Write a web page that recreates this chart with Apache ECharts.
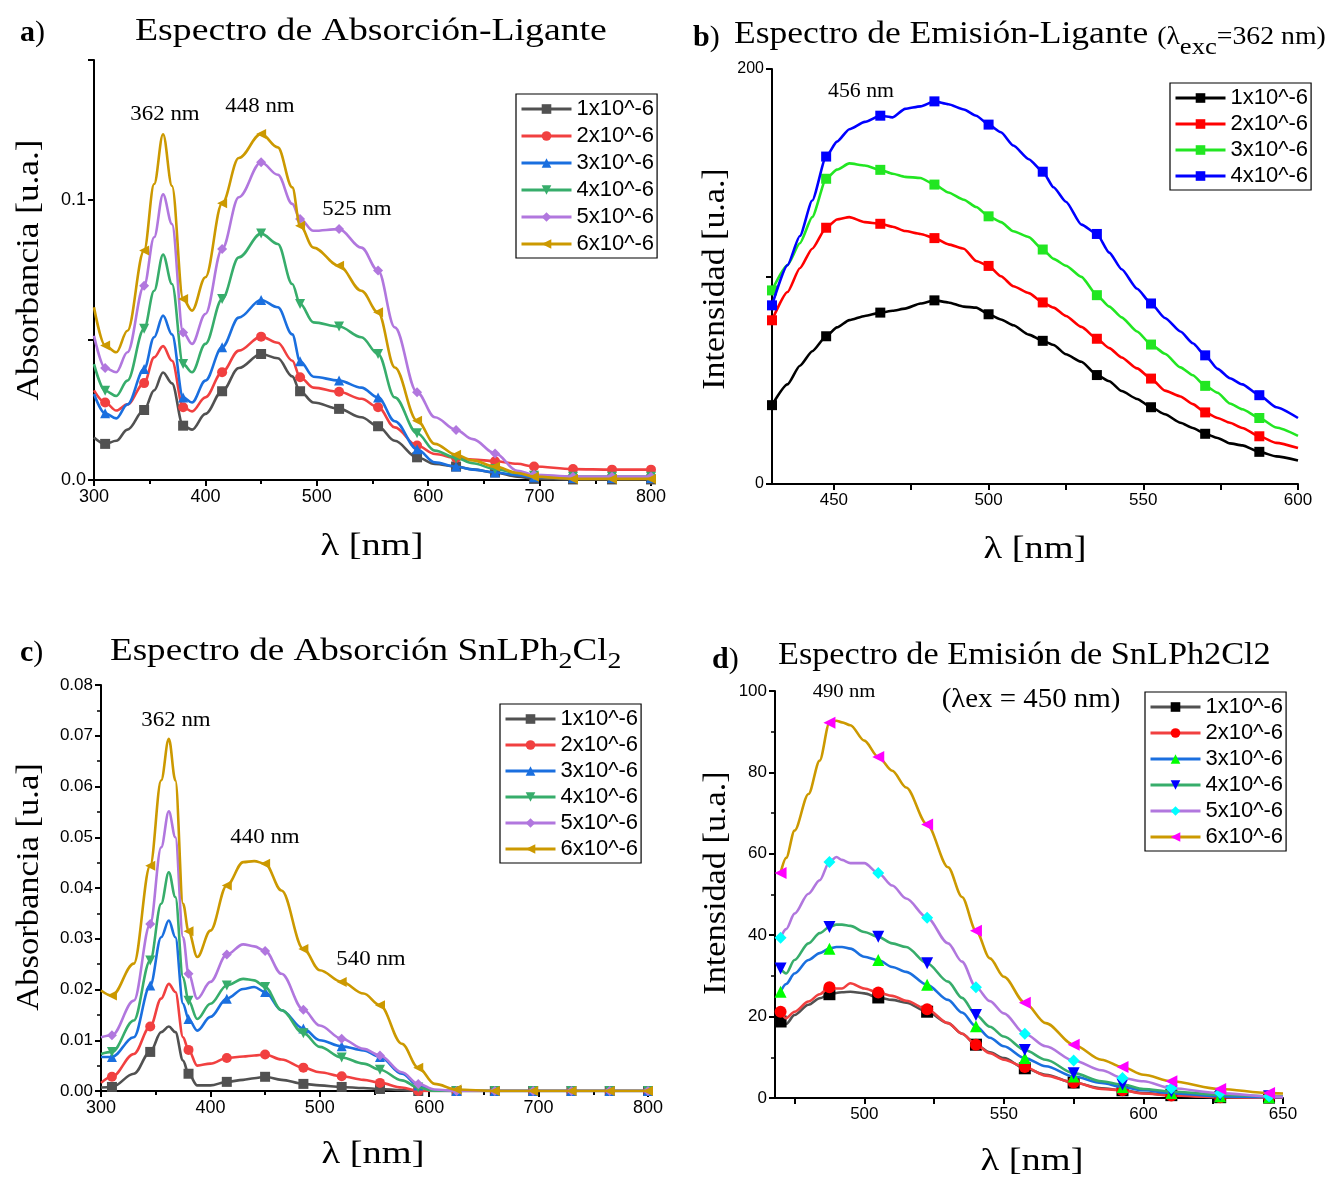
<!DOCTYPE html>
<html><head><meta charset="utf-8">
<script src="https://cdn.jsdelivr.net/npm/echarts@6/dist/echarts.min.js"></script>
<style>html,body{margin:0;padding:0;background:#fff}#c{width:1343px;height:1178px}</style>
</head><body><div id="c"></div>
<script>
// ---------- DATA ----------
const legendNames = ['1x10^-6','2x10^-6','3x10^-6','4x10^-6','5x10^-6','6x10^-6'];

// Panel a: Absorción - Ligante
const xA = [300,310,320,330,345,354,362,370,380,388,400,415,430,450,465,478,485,497,520,540,555,570,590,606,625,640,660,680,695,730,765,800];
const a1 = [0.0152,0.0129,0.0140,0.0180,0.0250,0.0320,0.0384,0.0345,0.0194,0.0180,0.0236,0.0317,0.0400,0.0450,0.0435,0.0370,0.0317,0.0277,0.0254,0.0224,0.0192,0.0140,0.0081,0.0057,0.0048,0.0038,0.0027,0.0012,0.0004,0.0002,0.0002,0.0002];
const a2 = [0.0320,0.0277,0.0248,0.0270,0.0346,0.0438,0.0478,0.0426,0.0260,0.0245,0.0295,0.0385,0.0462,0.0512,0.0490,0.0426,0.0367,0.0330,0.0315,0.0290,0.0260,0.0188,0.0123,0.0093,0.0079,0.0073,0.0067,0.0058,0.0048,0.0039,0.0037,0.0037];
const a3 = [0.0307,0.0238,0.0220,0.0270,0.0396,0.0510,0.0587,0.0520,0.0295,0.0277,0.0355,0.0474,0.0580,0.0643,0.0617,0.0520,0.0424,0.0369,0.0355,0.0330,0.0295,0.0210,0.0110,0.0063,0.0048,0.0037,0.0027,0.0017,0.0010,0.0007,0.0007,0.0007];
const a4 = [0.0414,0.0319,0.0300,0.0355,0.0540,0.0676,0.0805,0.0700,0.0414,0.0385,0.0486,0.0646,0.0795,0.0880,0.0843,0.0700,0.0629,0.0563,0.0548,0.0510,0.0450,0.0295,0.0167,0.0105,0.0079,0.0060,0.0039,0.0025,0.0015,0.0012,0.0012,0.0012];
const a5 = [0.0515,0.0400,0.0385,0.0456,0.0694,0.0867,0.1020,0.0914,0.0527,0.0486,0.0593,0.0825,0.1010,0.1135,0.1090,0.0986,0.0932,0.0890,0.0896,0.0830,0.0748,0.0545,0.0313,0.0224,0.0179,0.0146,0.0095,0.0033,0.0019,0.0012,0.0012,0.0012];
const a6 = [0.0617,0.0480,0.0456,0.0533,0.0820,0.1057,0.1235,0.1050,0.0646,0.0605,0.0724,0.0988,0.1150,0.1236,0.1188,0.1045,0.0908,0.0830,0.0765,0.0676,0.0599,0.0402,0.0212,0.0129,0.0090,0.0070,0.0048,0.0025,0.0012,0.0004,0.0004,0.0004];
const markA = [310,345,380,415,450,485,520,555,590,625,660,695,730,765,800];

// Panel b: Emisión - Ligante
const xB = [430,435,439,443,447.5,451,455,460,465,469,473,478,482.5,487,492,496,500,504,508,513,517.5,521,525,530,535,539,543,548,552.5,557,562,566,570,574,578,582,587.5,593,600];
const b1 = [38.0,48.0,57.0,64.0,71.2,75.5,79.0,81.0,82.6,83.5,84.5,87.0,88.5,87.5,85.5,85.0,81.8,79.3,76.5,72.0,69.0,67.0,62.5,58.9,52.5,49.5,44.8,41.0,37.0,33.6,29.5,27.0,24.2,22.2,19.6,18.6,15.5,13.3,11.3];
const b2 = [78.9,92.5,104.0,113.4,123.5,127.5,128.6,126.2,125.4,124.0,121.9,120.5,118.5,115.5,113.4,107.5,105.1,100.1,95.3,92.0,87.5,85.0,81.0,75.7,70.0,65.5,61.0,55.7,50.8,45.0,42.2,38.5,34.5,31.8,29.5,27.0,23.0,19.8,17.3];
const b3 = [93.3,105.5,116.0,128.6,147.1,151.5,154.5,153.5,151.4,149.5,148.0,147.5,144.3,140.5,137.0,133.5,129.0,126.2,121.8,119.0,113.0,108.5,105.2,99.8,91.0,85.5,80.3,73.5,67.2,62.8,56.2,52.4,47.3,44.0,38.8,36.0,31.8,27.2,23.2];
const b4 = [86.1,105.5,119.5,136.6,157.8,165.0,171.0,174.5,177.5,176.7,180.8,182.0,184.4,183.0,180.5,177.5,173.2,169.5,163.1,156.5,150.5,143.0,136.0,125.0,120.5,111.5,103.5,94.1,87.0,80.0,73.5,67.8,62.0,55.5,51.0,48.0,42.8,37.0,31.8];
const markB = [430,447.5,465,482.5,500,517.5,535,552.5,570,587.5];

// Panel c: Absorción SnLPh2Cl2
const xC = [300,310,330,345,355,362,368,375,380,388,400,415,430,440,450,465,485,500,520,540,555,575,590,605,625,660,695,730,765,800];
const c1 = [0.0007,0.0008,0.0034,0.0077,0.0116,0.0127,0.0116,0.0060,0.0034,0.0011,0.0011,0.0018,0.0022,0.0025,0.0028,0.0022,0.0014,0.0011,0.0008,0.0006,0.0004,0.0002,0,0,0,0,0,0,0,0];
const c2 = [0.0016,0.0028,0.0073,0.0127,0.0182,0.0211,0.0195,0.0106,0.0081,0.0050,0.0054,0.0065,0.0068,0.0070,0.0072,0.0062,0.0046,0.0037,0.0029,0.0022,0.0016,0.0007,0,0,0,0,0,0,0,0];
const c3 = [0.0067,0.0067,0.0106,0.0208,0.0303,0.0336,0.0303,0.0172,0.0142,0.0119,0.0146,0.0182,0.0201,0.0205,0.0195,0.0159,0.0123,0.0100,0.0088,0.0080,0.0067,0.0034,0.0011,0.0001,0,0,0,0,0,0];
const c4 = [0.0073,0.0077,0.0139,0.0257,0.0369,0.0431,0.0382,0.0224,0.0178,0.0142,0.0172,0.0208,0.0221,0.0218,0.0205,0.0159,0.0114,0.0087,0.0066,0.0054,0.0042,0.0021,0.0007,0,0,0,0,0,0,0];
const c5 = [0.0106,0.0110,0.0178,0.0329,0.0480,0.0551,0.0500,0.0303,0.0231,0.0182,0.0215,0.0269,0.0289,0.0285,0.0276,0.0231,0.0160,0.0129,0.0103,0.0083,0.0070,0.0037,0.0014,0.0003,0,0,0,0,0,0];
const c6 = [0.0198,0.0188,0.0251,0.0444,0.0612,0.0694,0.0612,0.0369,0.0315,0.0264,0.0316,0.0405,0.0451,0.0453,0.0448,0.0395,0.0280,0.0238,0.0215,0.0192,0.0169,0.0093,0.0046,0.0014,0.0003,0,0,0,0,0];
const markC = [310,345,380,415,450,485,520,555,590,625,660,695,730,765,800];

// Panel d: Emisión SnLPh2Cl2
const xD = [470,472,475,480,484,487.5,490,492,495,500,505,510,515,522.5,530,535,540,545,550,557.5,565,575,585,592.5,600,610,627.5,645,650];
const d1 = [18.8,18.2,20.4,22.9,24.5,25.5,25.8,26.0,26.1,25.7,24.7,24.1,23.4,21.2,18.4,15.8,13.1,11.2,9.8,7.3,5.7,3.8,2.4,1.9,1.2,0.7,0.2,0.1,0.1];
const d2 = [21.2,19.6,21.2,23.7,25.5,27.2,26.9,26.9,28.2,26.9,25.9,25.1,23.9,21.8,18.4,15.8,13.1,11.0,9.4,7.6,5.5,3.8,2.2,1.9,1.1,0.6,0.2,0.1,0.1];
const d3 = [26.1,28.0,30.6,33.9,35.6,36.7,37.1,37.1,36.7,34.7,33.9,32.2,31.0,27.8,24.1,21.0,17.6,14.8,12.7,9.8,7.8,5.3,3.7,2.7,1.9,1.2,0.4,0.2,0.2];
const d4 = [31.8,30.6,33.9,38.0,40.5,42.0,42.6,42.6,42.3,40.8,39.6,38.0,37.1,33.1,28.6,24.6,20.4,17.5,15.1,11.8,9.4,6.1,4.1,3.3,2.2,1.6,0.8,0.4,0.4];
const d5 = [39.4,41.5,45.3,50.2,53.5,58.0,59.2,58.5,57.7,57.7,55.3,52.2,49.0,44.3,38.0,33.5,27.2,23.8,20.8,15.8,12.7,9.2,6.8,4.9,4.1,2.4,1.2,0.4,0.3];
const d6 = [55.3,59.0,65.7,74.7,82.9,92.2,92.7,92.3,91.6,87.8,83.8,80.4,76.3,67.2,56.7,49.4,41.1,34.3,29.8,23.4,18.4,13.1,9.4,7.6,5.7,4.1,2.2,1.2,1.1];
const markD = [470,487.5,505,522.5,540,557.5,575,592.5,610,627.5,645];

// ---------- STYLE ----------
const SERIF = '"Liberation Serif","Times New Roman",serif';
const SANS = '"Liberation Sans",Arial,sans-serif';
const brightLines = ['#515151','#F14040','#1A6FDF','#37AD6B','#B177DE','#CC9900'];
const pureB = ['#000000','#FF0000','#22E622','#0000FF'];
const markD_colors = ['#000000','#FF0000','#00FF00','#0000FF','#00FFFF','#FF00FF'];
const symbols6 = ['rect','circle','triangle','triangle','diamond','triangle'];
const rot6 = [0,0,0,180,0,90];

function mkSeries(panel, g, idx, xs, ys, marks, o) {
  const set = new Set(marks);
  return {
    type: 'line', name: panel + '|' + legendNames[idx],
    xAxisIndex: g, yAxisIndex: g,
    data: xs.map((x, i) => [x, ys[i]]),
    smooth: o.smooth, smoothMonotone: 'x',
    showSymbol: true, showAllSymbol: true,
    symbol: o.symbol, symbolRotate: o.rotate || 0,
    symbolSize: (v) => set.has(v[0]) ? o.size : 0,
    lineStyle: { color: o.line, width: 2.6 },
    itemStyle: { color: o.marker },
    emphasis: { disabled: true },
    z: 2 + idx
  };
}

function axisBase(fs) {
  return {
    axisLine: { show: true, onZero: false, lineStyle: { color: '#000', width: 2 } },
    axisTick: { show: true, inside: false, length: 6, lineStyle: { color: '#000', width: 2 } },
    splitLine: { show: false },
    axisLabel: { color: '#000', fontFamily: SANS, fontSize: fs, margin: 8 }
  };
}

const grids = [
  { left: 94, top: 60, width: 557, height: 420 },
  { left: 772, top: 69, width: 526, height: 415 },
  { left: 101, top: 685, width: 547, height: 406 },
  { left: 775, top: 691, width: 508, height: 407 }
];

const minorX = { show: true, splitNumber: 2, length: 4, lineStyle: { color: '#000', width: 2 } };
const minorY = { show: true, splitNumber: 2, length: 4, lineStyle: { color: '#000', width: 1.5 } };

const xAxes = [
  Object.assign(axisBase(18), { gridIndex: 0, type: 'value', min: 300, max: 800, interval: 100, minorTick: minorX }),
  Object.assign(axisBase(17), { gridIndex: 1, type: 'value', min: 430, max: 600 }),
  Object.assign(axisBase(18), { gridIndex: 2, type: 'value', min: 300, max: 800, interval: 100, minorTick: minorX }),
  Object.assign(axisBase(17), { gridIndex: 3, type: 'value', min: 468, max: 650 })
];
xAxes[1].axisTick = Object.assign({}, xAxes[1].axisTick, { customValues: [450,475,500,525,550,575,600] });
xAxes[1].axisLabel = Object.assign({}, xAxes[1].axisLabel, { customValues: [450,500,550,600] });
xAxes[3].axisTick = Object.assign({}, xAxes[3].axisTick, { customValues: [475,500,525,550,575,600,625,650] });
xAxes[3].axisLabel = Object.assign({}, xAxes[3].axisLabel, { customValues: [500,550,600,650] });

const yAxes = [
  Object.assign(axisBase(18), { gridIndex: 0, type: 'value', min: 0, max: 0.15, interval: 0.05 }),
  Object.assign(axisBase(16), { gridIndex: 1, type: 'value', min: 0, max: 200, interval: 100 }),
  Object.assign(axisBase(17), { gridIndex: 2, type: 'value', min: 0, max: 0.08, interval: 0.01, minorTick: minorY }),
  Object.assign(axisBase(17), { gridIndex: 3, type: 'value', min: 0, max: 100, interval: 20, minorTick: minorY })
];
yAxes[0].axisLabel = Object.assign({}, yAxes[0].axisLabel, { formatter: v => Math.abs(v) < 1e-9 ? '0.0' : (Math.abs(v - 0.1) < 1e-9 ? '0.1' : '') });
yAxes[1].axisLabel = Object.assign({}, yAxes[1].axisLabel, { formatter: v => (v === 0 || v === 200) ? String(v) : '' });
yAxes[2].axisLabel = Object.assign({}, yAxes[2].axisLabel, { formatter: v => v.toFixed(2) });

const series = [];
[a1,a2,a3,a4,a5,a6].forEach((ys, i) => series.push(mkSeries('a', 0, i, xA, ys, markA,
  { smooth: 0.35, symbol: symbols6[i], rotate: rot6[i], size: 10, line: brightLines[i], marker: brightLines[i] })));
[b1,b2,b3,b4].forEach((ys, i) => series.push(mkSeries('b', 1, i, xB, ys, markB,
  { smooth: 0.2, symbol: 'rect', size: 10, line: pureB[i], marker: pureB[i] })));
[c1,c2,c3,c4,c5,c6].forEach((ys, i) => series.push(mkSeries('c', 2, i, xC, ys, markC,
  { smooth: 0.35, symbol: symbols6[i], rotate: rot6[i], size: 10, line: brightLines[i], marker: brightLines[i] })));
[d1,d2,d3,d4,d5,d6].forEach((ys, i) => series.push(mkSeries('d', 3, i, xD, ys, markD,
  { smooth: 0.3, symbol: symbols6[i], rotate: rot6[i], size: 12, line: brightLines[i], marker: markD_colors[i] })));

function mkLegend(panel, n, left, top, lineCols, markCols, gap) {
  return {
    orient: 'vertical', left: left, top: top, selectedMode: false,
    borderColor: '#000', borderWidth: 1.2, padding: [4, 3, 3, 4],
    itemWidth: 50, itemHeight: 12, itemGap: gap,
    textStyle: { fontFamily: SANS, fontSize: 22, color: '#000', lineHeight: 20 },
    formatter: name => name.split('|')[1],
    data: legendNames.slice(0, n).map((nm, i) => ({
      name: panel + '|' + nm,
      itemStyle: { color: markCols[i] },
      lineStyle: { color: lineCols[i], width: 3 }
    }))
  };
}

const legends = [
  mkLegend('a', 6, 516, 94, brightLines, brightLines, 5),
  mkLegend('b', 4, 1170, 83, pureB, pureB, 4),
  mkLegend('c', 6, 500, 704, brightLines, brightLines, 4),
  mkLegend('d', 6, 1145, 692, brightLines, markD_colors, 4)
];

function txt(x, y, text, size, opts) {
  opts = opts || {};
  return {
    type: 'text', x: x, y: y, rotation: opts.rot || 0, scaleX: opts.sx || 1, silent: true,
    style: Object.assign({
      text: text, fontFamily: opts.family || SERIF, fontSize: size, fill: '#000',
      align: opts.align || 'center', verticalAlign: 'middle', fontWeight: opts.weight || 'normal'
    }, opts.rich ? { rich: opts.rich } : {})
  };
}

const subRich = {
  m: { fontFamily: SERIF, fontSize: 32, lineHeight: 40, verticalAlign: 'bottom', padding: [0,0,4,0] },
  s: { fontFamily: SERIF, fontSize: 25, lineHeight: 40, verticalAlign: 'bottom', padding: [0,0,5,0] },
  sub: { fontFamily: SERIF, fontSize: 24, lineHeight: 40, verticalAlign: 'bottom', padding: [0,0,-5,0] },
  sub2: { fontFamily: SERIF, fontSize: 24, lineHeight: 40, verticalAlign: 'bottom', padding: [0,0,-2,0] },
  b: { fontFamily: SERIF, fontSize: 30, fontWeight: 'bold', lineHeight: 40, verticalAlign: 'bottom', padding: [0,0,4,0] },
  p: { fontFamily: SERIF, fontSize: 30, lineHeight: 40, verticalAlign: 'bottom', padding: [0,0,4,0] }
};

const graphics = [
  txt(20, 32, '{b|a}{p|)}', 30, { align: 'left', rich: subRich }),
  txt(135, 32, 'Espectro de Absorción-Ligante', 32, { align: 'left', sx: 1.18 }),
  txt(693, 37, '{b|b}{p|)}', 30, { align: 'left', rich: subRich }),
  txt(734, 35, '{m|Espectro de Emisión-Ligante }{s|(λ}{sub|exc}{s|=362 nm)}', 32, { align: 'left', rich: subRich, sx: 1.11 }),
  txt(20, 652, '{b|c}{p|)}', 30, { align: 'left', rich: subRich }),
  txt(110, 652, '{m|Espectro de Absorción SnLPh}{sub2|2}{m|Cl}{sub2|2}', 32, { align: 'left', rich: subRich, sx: 1.16 }),
  txt(712, 659, '{b|d}{p|)}', 30, { align: 'left', rich: subRich }),
  txt(778, 656, 'Espectro de Emisión de SnLPh2Cl2', 32, { align: 'left', sx: 1.07 }),

  txt(30, 270, 'Absorbancia [u.a.]', 32, { rot: Math.PI / 2, sx: 1.1 }),
  txt(372, 547, 'λ [nm]', 32, { sx: 1.2 }),
  txt(716, 279, 'Intensidad [u.a.]', 32, { rot: Math.PI / 2, sx: 1.06 }),
  txt(1035, 550, 'λ [nm]', 32, { sx: 1.2 }),
  txt(30, 887, 'Absorbancia [u.a]', 32, { rot: Math.PI / 2, sx: 1.08 }),
  txt(373, 1155, 'λ [nm]', 32, { sx: 1.2 }),
  txt(717, 883, 'Intensidad [u.a.]', 32, { rot: Math.PI / 2, sx: 1.07 }),
  txt(1032, 1162, 'λ [nm]', 32, { sx: 1.2 }),

  txt(165, 114, '362 nm', 21, { sx: 1.09 }),
  txt(260, 106, '448 nm', 21, { sx: 1.09 }),
  txt(357, 209, '525 nm', 21, { sx: 1.09 }),
  txt(861, 92, '456 nm', 20, { sx: 1.09 }),
  txt(176, 720, '362 nm', 21, { sx: 1.09 }),
  txt(265, 837, '440 nm', 21, { sx: 1.09 }),
  txt(371, 959, '540 nm', 21, { sx: 1.09 }),
  txt(844, 692, '490 nm', 19, { sx: 1.09 }),
  txt(1031, 700, '(λex = 450 nm)', 27, { sx: 1.07 })
];

const chart = echarts.init(document.getElementById('c'), null, { renderer: 'canvas' });
chart.setOption({
  animation: false,
  backgroundColor: '#fff',
  textStyle: { fontFamily: SANS },
  grid: grids,
  xAxis: xAxes,
  yAxis: yAxes,
  legend: legends,
  series: series,
  graphic: graphics
});
</script>
</body></html>
